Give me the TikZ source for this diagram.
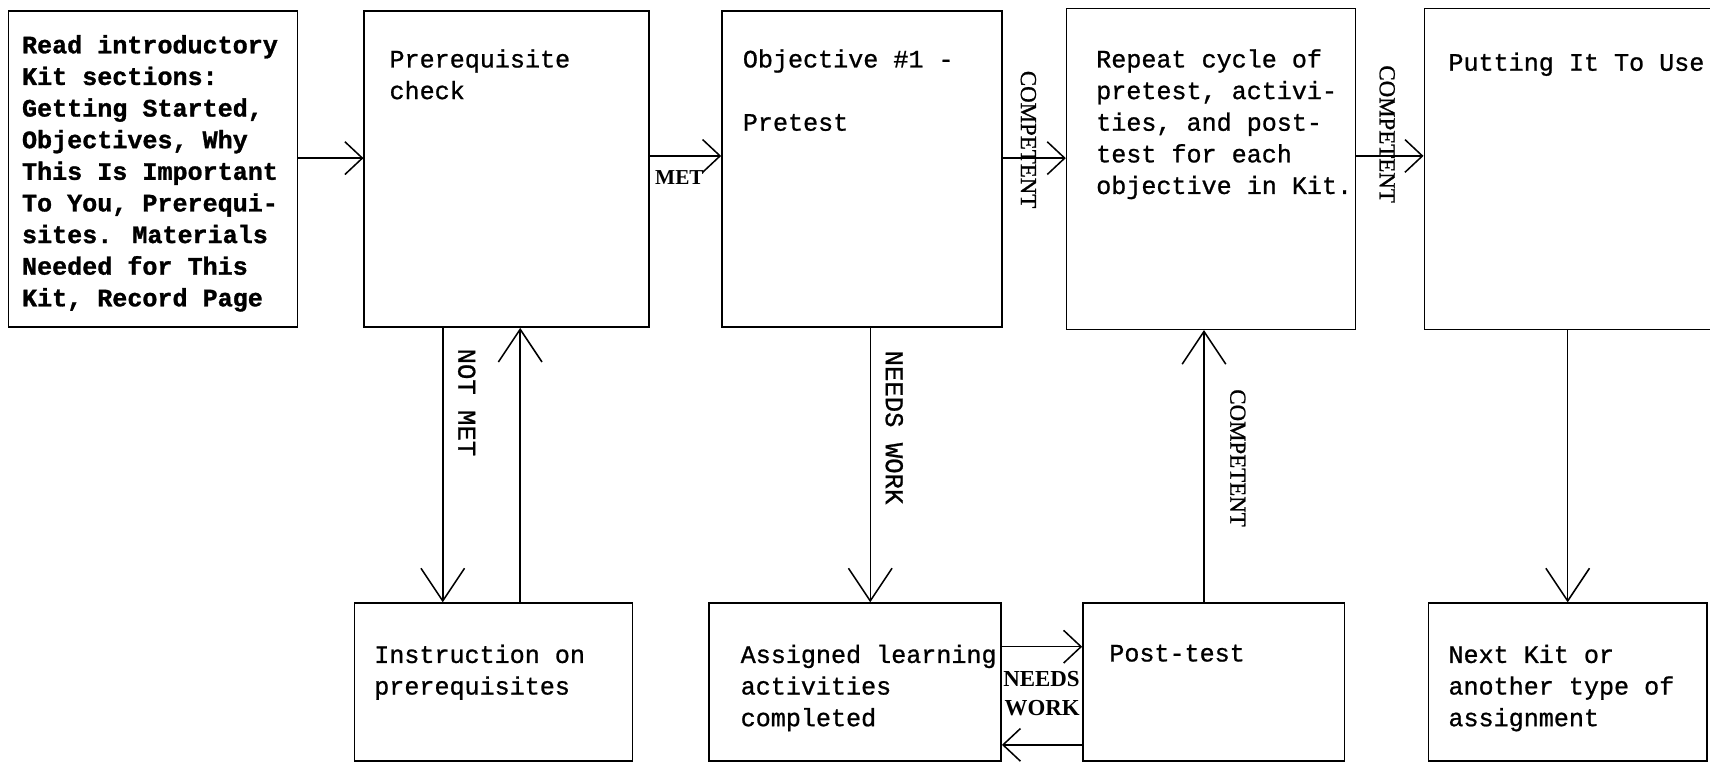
\documentclass[tikz,border=0pt]{standalone}
\usepackage{fontspec}
\setmainfont{Liberation Serif}
\setmonofont{Liberation Mono}
\newfontfamily\twfont[FakeBold=0.9]{Liberation Mono}
\newfontfamily\twbfont[FakeBold=1.2]{Liberation Mono Bold}
\newfontfamily\lblfont[FakeBold=1.0]{Liberation Serif}
\usetikzlibrary{arrows.meta,calc}
\begin{document}
\begin{tikzpicture}[x=1pt,y=-1pt,
  box/.style={draw, line width=1.4pt, rectangle, inner sep=0pt},
  txt/.style={anchor=north west, inner sep=0pt, align=left, font=\fontsize{23}{29}\selectfont\twfont},
  harrow/.style={line width=1.4pt, -{Straight Barb[length=16pt,width=30pt,line width=1.4pt]}},
  varrow/.style={line width=1.4pt, -{Straight Barb[length=30pt,width=40pt,line width=1.4pt]}},
  vlabs/.style={inner sep=0pt, rotate=-90, font=\fontsize{21}{21}\selectfont\lblfont},
  vlabt/.style={inner sep=0pt, rotate=-90, font=\fontsize{23.5}{23.5}\selectfont\twfont},
  hlab/.style={inner sep=0pt, font=\fontsize{21}{27}\selectfont\rmfamily\bfseries}]
\path[use as bounding box] (0,0) rectangle (1568,700);
\clip (0,0) rectangle (1568,700);
% top row
\node[box, minimum width=265pt, minimum height=290pt] (b1) at (140.5,155) {};
\node[box, minimum width=261pt, minimum height=290pt] (b2) at (464.5,155) {};
\node[box, minimum width=257pt, minimum height=290pt] (b3) at (790.5,155) {};
\node[box, minimum width=265pt, minimum height=294pt] (b4) at (1110.5,155) {};
\node[box, minimum width=294pt, minimum height=294pt] (b5) at (1453,155) {};
% bottom row
\node[box, minimum width=255pt, minimum height=145pt] (i) at (452.5,625.5) {};
\node[box, minimum width=268pt, minimum height=145pt] (a) at (784,625.5) {};
\node[box, minimum width=240pt, minimum height=145pt] (p) at (1113,625.5) {};
\node[box, minimum width=255pt, minimum height=145pt] (n) at (1437.5,625.5) {};
% texts
\node[txt, font=\fontsize{23}{29}\selectfont\twbfont] (t1) at (20,32) {Read introductory\\Kit sections:\\Getting Started,\\Objectives, Why\\This Is Important\\To You, Prerequi-\\sites. Materials\\Needed for This\\Kit, Record Page};
\node[txt] (t2) at (357,45) {Prerequisite\\check};
\node[txt] (t3) at (681,45) {Objective \#1 -\\[29pt]Pretest};
\node[txt] (t4) at (1005,45) {Repeat cycle of\\pretest, activi-\\ties, and post-\\test for each\\objective in Kit.};
\node[txt] (t5) at (1328,48) {Putting It To Use};
\node[txt] (ti) at (343,591) {Instruction on\\prerequisites};
\node[txt] (ta) at (679,591) {Assigned learning\\activities\\completed};
\node[txt] (tp) at (1017,591) {Post-test};
\node[txt] (tn) at (1328,591) {Next Kit or\\another type of\\assignment};
% horizontal connectors
\draw[harrow] ([yshift=10pt]b1.east) -- ([yshift=10pt]b2.west);
\draw[harrow] ([yshift=12pt]b2.east) -- ([yshift=12pt]b3.west);
\node[hlab, font=\fontsize{19.5}{25}\selectfont\rmfamily\bfseries] (lmet) at (623,163) {MET};
\draw[harrow] ([yshift=10pt]b3.east) -- ([yshift=10pt]b4.west);
\node[vlabs] (lc1) at (943,128) {COMPETENT};
\draw[harrow] ([yshift=12pt]b4.east) -- ([yshift=12pt]b5.west);
\node[vlabs] (lc2) at (1272,123) {COMPETENT};
% prerequisite loop
\draw[varrow] ([xshift=-58.5pt]b2.south) -- ([xshift=-58.5pt]b2.south |- i.north);
\draw[varrow] ([xshift=12.5pt]b2.south |- i.north) -- ([xshift=12.5pt]b2.south);
\node[vlabt] (lnm) at (428,369) {NOT MET};
% needs work down
\draw[varrow] ([xshift=7.5pt]b3.south) -- ([xshift=7.5pt]b3.south |- a.north);
\node[vlabt] (lnw) at (820,392) {NEEDS WORK};
% assigned <-> post-test
\draw[harrow] ([yshift=32.5pt]a.east) -- ([yshift=32.5pt]p.west);
\draw[harrow] ([yshift=-57.5pt]p.west) -- ([yshift=-57.5pt]a.east);
\node[hlab, align=right] (lnw2) at (955,636) {NEEDS\\WORK};
% post-test competent up
\draw[varrow] ([xshift=-6.5pt]b4.south |- p.north) -- ([xshift=-6.5pt]b4.south);
\node[vlabs] (lc3) at (1135,420) {COMPETENT};
% putting it to use down
\draw[varrow] (n.north |- b5.south) -- (n.north);
\end{tikzpicture}
\end{document}
